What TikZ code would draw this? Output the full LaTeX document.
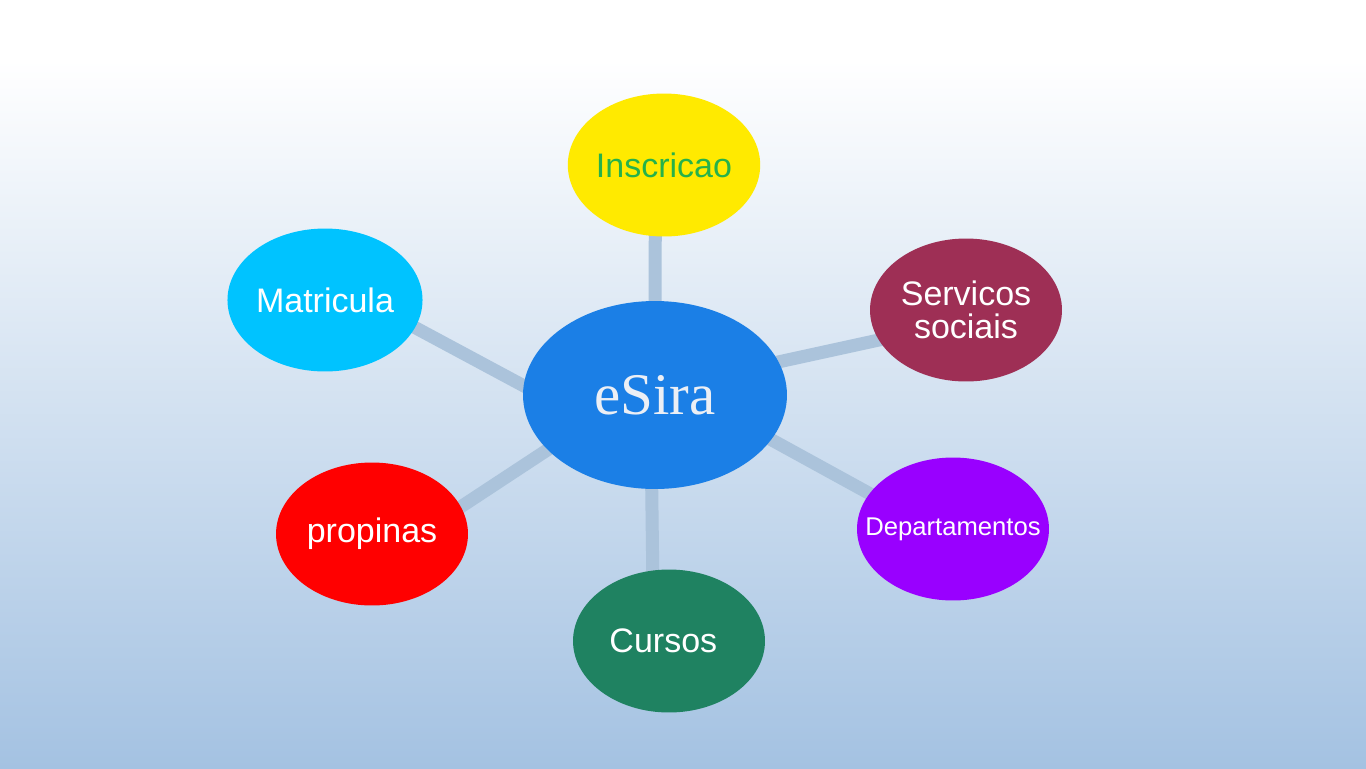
\documentclass[tikz,border=0pt]{standalone}
\usepackage{fontspec}
\setmainfont{Liberation Sans}
\newfontfamily\serifface{Liberation Serif}
\usetikzlibrary{shapes.geometric}
\definecolor{bgtop}{RGB}{255,255,255}
\definecolor{bgbot}{RGB}{164,194,226}
\definecolor{linkc}{RGB}{171,195,219}
\definecolor{esirac}{RGB}{27,127,230}
\definecolor{inscc}{RGB}{255,234,0}
\definecolor{insctxt}{RGB}{38,178,74}
\definecolor{servc}{RGB}{158,47,85}
\definecolor{deptc}{RGB}{153,0,255}
\definecolor{cursc}{RGB}{31,130,97}
\definecolor{propc}{RGB}{255,0,0}
\definecolor{matrc}{RGB}{0,195,255}
\pgfdeclarelayer{bg}
\pgfdeclarelayer{links}
\pgfsetlayers{bg,links,main}

\begin{document}
\begin{tikzpicture}[x=0.02cm,y=-0.02cm,
    item/.style={ellipse,inner sep=0pt,outer sep=0pt,minimum width=3.84cm,minimum height=2.86cm,
      text=white,align=center,font=\fontsize{19.35}{18.5}\selectfont},
    link/.style={linkc,line width=7.4pt,shorten <=-3pt,shorten >=-3pt}]
        \useasboundingbox (0,0) rectangle (1366,768);
        \begin{pgfonlayer}{bg}
          \fill[bgtop] (0,0) rectangle (1366,60);
          \shade[top color=bgtop,bottom color=bgbot] (0,60) rectangle (1366,768);
        \end{pgfonlayer}
        % centre and the six topics
        \node[ellipse,inner sep=0pt,outer sep=0pt,minimum width=5.28cm,minimum height=3.76cm,fill=esirac,
          text={rgb,255:red,236;green,239;blue,245},font=\serifface\fontsize{33.6}{40}\selectfont] (esira) at (655,395) {eSira\hspace{0.2cm}};
        \node[item,fill=inscc,text=insctxt] (inscricao) at (664,165) {Inscricao};
        \node[item,fill=servc] (servicos) at (966,310) {Servicos\\sociais};
        \node[item,fill=deptc,font=\fontsize{14.6}{16}\selectfont] (departamentos) at (953,529) {\makebox[0pt]{Departamentos}};
        \node[item,fill=cursc] (cursos) at (669,641) {Cursos\,\,};
        \node[item,fill=propc] (propinas) at (372,534) {propinas};
        \node[item,fill=matrc] (matricula) at (325,300) {Matricula};
        \begin{pgfonlayer}{links}
          \draw[link] (esira.north) -- (inscricao.263);
          \draw[link] (esira.15) -- (servicos.199);
          \draw[link] (esira.-21) -- (departamentos.157);
          \draw[link] (esira.268) -- (cursos.103);
          \draw[link] (esira.207) -- (propinas.17);
          \draw[link] (esira.176) -- (matricula.-17);
        \end{pgfonlayer}
      \end{tikzpicture}
\end{document}
